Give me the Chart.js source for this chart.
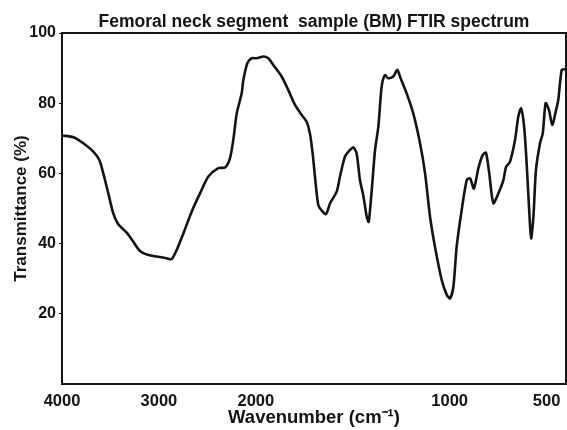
<!DOCTYPE html>
<html>
<head>
<meta charset="utf-8">
<script src="https://cdn.jsdelivr.net/npm/chart.js@4/dist/chart.umd.min.js"></script>
<style>
  html, body { margin: 0; padding: 0; background: #fff; }
  #wrap { width: 567px; height: 430px; }
</style>
</head>
<body>
<div id="wrap"><canvas id="chartFtir"></canvas></div>
<script>
// ===== data =====
const WAVENUMBER = [4000,3883,3780,3677,3615,3574,3522,3471,3419,3332,3264,3195,3126,3023,2920,2868,
  2817,2748,2662,2576,2490,2387,2318,2267,2233,2197,2146,2129,2088,2043,1996,1961,1936,1910,1867,
  1833,1798,1763,1738,1721,1707,1695,1678,1660,1638,1617,1583,1566,1540,1514,1497,1480,1463,1446,
  1428,1418,1402,1385,1368,1351,1334,1317,1291,1270,1256,1222,1188,1153,1127,1101,1076,1041,1015,
  998,981,964,938,912,895,875,852,830,813,796,775,749,723,709,689,663,646,632,616,602,589,580,568,
  555,534,520,505,488,471,453,440,422,405];
const TRANSMITTANCE = [70.8,70.3,68.6,66.2,63.8,60.0,54.3,48.6,45.5,43.1,40.5,37.9,36.9,36.3,35.8,35.6,
  38.2,42.9,49.1,54.3,59.1,61.5,61.7,64.3,69.5,77.1,82.8,86.6,91.4,92.8,92.8,93.3,92.8,90.9,87.6,
  83.8,79.5,76.6,74.7,71.4,65.7,59.1,51.0,49.4,48.4,51.5,54.8,59.1,64.8,66.7,67.4,65.7,58.1,53.8,
  47.7,46.2,55.3,66.7,73.3,84.7,88.0,87.1,87.6,89.5,87.5,82.8,77.1,68.6,60.0,47.5,39.1,29.6,25.4,
  24.4,27.7,39.1,49.6,58.1,58.6,55.7,61.5,65.2,65.9,60.0,51.5,54.3,58.1,61.9,63.3,69.5,76.2,78.5,73.3,
  61.9,48.6,41.5,47.7,61.0,68.6,71.4,80.0,78.1,73.8,77.6,80.9,89.5,89.7];
const X_TICKS = [4000, 3000, 2000, 1000, 500];
const Y_TICKS = [20, 40, 60, 80, 100];

const TITLE = 'Femoral neck segment  sample (BM) FTIR spectrum';
const X_TITLE = 'Wavenumber (cm\u207B\u00B9)';
const Y_TITLE = 'Transmittance (%)';

// spectrometer axis: scale doubles below 2000 cm-1
const X_MAX = 4000, X_MIN = 400, X_BREAK = 2000;
const toU = x => x >= X_BREAK ? (X_MAX - x) : (X_MAX - X_BREAK) + (X_BREAK - x) * 2;
const fromU = u => u <= (X_MAX - X_BREAK) ? X_MAX - u : X_BREAK - (u - (X_MAX - X_BREAK)) / 2;

class FtirScale extends Chart.LinearScale {
  static id = 'ftir';
  static defaults = Chart.LinearScale.defaults;
  getPixelForValue(value) {
    return this.getPixelForDecimal(toU(value) / toU(X_MIN));
  }
  getValueForPixel(pixel) {
    return fromU(this.getDecimalForPixel(pixel) * toU(X_MIN));
  }
}
Chart.register(FtirScale);

const FONT = "'Liberation Sans', Arial, sans-serif";
const INK = '#141414';

// frame round the plot area
const frame = {
  id: 'frame',
  afterDraw(chart) {
    const { ctx, chartArea: a } = chart;
    ctx.save();
    ctx.strokeStyle = INK;
    ctx.lineWidth = 2;
    ctx.strokeRect(a.left, a.top, a.right - a.left, a.bottom - a.top);
    ctx.restore();
  }
};

new Chart(document.getElementById('chartFtir'), {
  type: 'line',
  data: {
    datasets: [{
      data: WAVENUMBER.map((x, i) => ({ x, y: TRANSMITTANCE[i] })),
      borderColor: INK,
      borderWidth: 2.6,
      pointRadius: 0,
      tension: 0.25,
      fill: false,
    }]
  },
  options: {
    responsive: true,
    maintainAspectRatio: false,
    animation: false,
    layout: { padding: { top: 0, right: 1, bottom: 0, left: 0 } },
    plugins: {
      legend: { display: false },
      tooltip: { enabled: false },
      title: {
        display: true,
        fullSize: false,
        text: TITLE,
        color: INK,
        font: { family: FONT, size: 17.5, weight: 'bold', lineHeight: 1.2 },
        padding: { top: 12, bottom: 0 }
      }
    },
    scales: {
      x: {
        type: 'ftir',
        min: X_MIN, max: X_MAX,
        afterBuildTicks: s => { s.ticks = X_TICKS.map(v => ({ value: v })); },
        afterFit: s => { s.height = 46; },
        grid: { display: false, drawOnChartArea: false, tickLength: 3, color: INK },
        border: { color: INK, width: 2 },
        ticks: {
          color: INK, padding: 6, maxRotation: 0, autoSkip: false,
          font: { family: FONT, size: 16.5, weight: 'bold', lineHeight: 1.0 },
          callback: v => String(v)
        },
        title: {
          display: true, text: X_TITLE, color: INK, padding: { top: 0, bottom: 2 },
          font: { family: FONT, size: 18.5, weight: 'bold', lineHeight: 1.1 }
        }
      },
      y: {
        min: 0, max: 100,
        afterBuildTicks: s => { s.ticks = Y_TICKS.map(v => ({ value: v })); },
        afterFit: s => { s.width = 62; },
        grid: { drawOnChartArea: false, tickLength: 3, color: INK },
        border: { color: INK, width: 2 },
        ticks: {
          color: INK, padding: 3,
          font: { family: FONT, size: 16, weight: 'bold' },
          callback: v => String(v)
        },
        title: {
          display: true, text: Y_TITLE, color: INK, padding: { top: 11, bottom: 0 },
          font: { family: FONT, size: 17, weight: 'bold' }
        }
      }
    }
  },
  plugins: [frame]
});
</script>
</body>
</html>
